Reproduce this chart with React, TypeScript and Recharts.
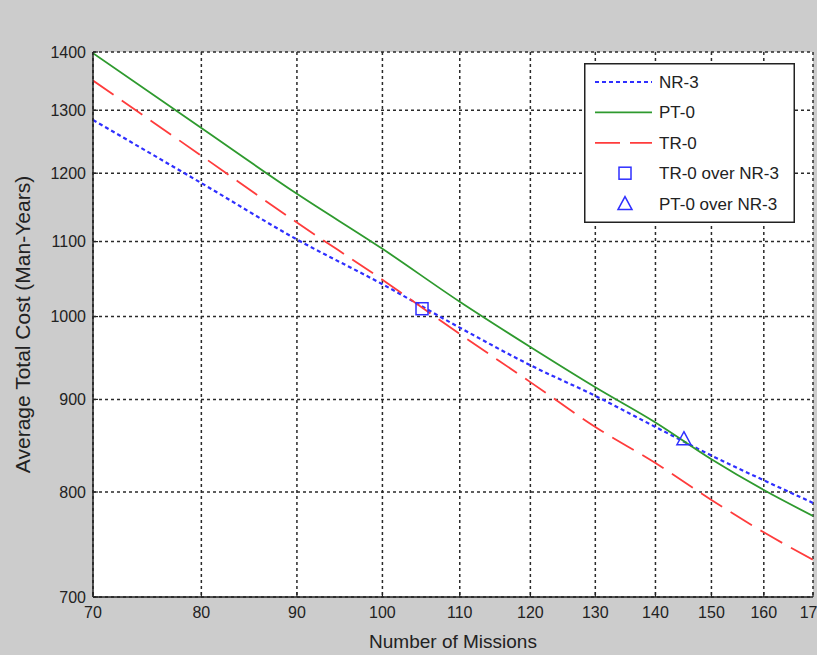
import { ComposedChart, Line, Scatter, XAxis, YAxis, CartesianGrid, Legend } from 'recharts';

const missions = [70, 80, 90, 100, 110, 120, 130, 140, 150, 160, 170];
const nr3 = [1284, 1185, 1103, 1042, 986, 940, 904, 869, 838, 812, 789];
const pt0 = [1398, 1271, 1169, 1090, 1019, 962, 914, 874, 834, 802, 776];
const tr0 = [1350, 1227, 1127, 1048, 978, 920, 869, 830, 792, 760, 734];

const xTicks = [70, 80, 90, 100, 110, 120, 130, 140, 150, 160, 170];
const yTicks = [700, 800, 900, 1000, 1100, 1200, 1300, 1400];

const trOverNr = [{ n: 105, v: 1010 }];
const ptOverNr = [{ n: 145, v: 855 }];

const data = missions.map((n, i) => ({ n, nr3: nr3[i], pt0: pt0[i], tr0: tr0[i] }));

const FONT = '"Liberation Sans", Arial, sans-serif';
const INK = '#222';
const BLUE = '#2f2fff';
const GREEN = '#2e9a2e';
const RED = '#ff3c3c';

const squareShape = (p: any) => (
  <rect x={p.cx - 6} y={p.cy - 6} width={12} height={12} fill="none" stroke={BLUE} strokeWidth={1.5} />
);

const triangleShape = (p: any) => (
  <path
    d={`M${p.cx},${p.cy - 8} L${p.cx + 7},${p.cy + 5} L${p.cx - 7},${p.cy + 5} Z`}
    fill="none"
    stroke={BLUE}
    strokeWidth={1.5}
  />
);

const YTitle = ({ viewBox }: any) => {
  const cy = viewBox.y + viewBox.height / 2;
  return (
    <text x={30} y={cy} transform={`rotate(-90, 30, ${cy})`} textAnchor="middle" fill={INK} fontSize={21} fontFamily={FONT}>
      Average Total Cost (Man-Years)
    </text>
  );
};

const legendRows = [
  { name: 'NR-3', kind: 'line', color: BLUE, dash: '4 3' },
  { name: 'PT-0', kind: 'line', color: GREEN, dash: undefined },
  { name: 'TR-0', kind: 'line', color: RED, dash: '25 10' },
  { name: 'TR-0 over NR-3', kind: 'square', color: BLUE, dash: undefined },
  { name: 'PT-0 over NR-3', kind: 'triangle', color: BLUE, dash: undefined },
];

const LegendBox = () => (
  <svg width={211} height={160} style={{ display: 'block' }}>
    <rect x={0.75} y={0.75} width={209.5} height={158.5} fill="#fff" stroke={INK} strokeWidth={1.5} />
    {legendRows.map((r, i) => {
      const cy = 19 + i * 30.4;
      return (
        <g key={r.name}>
          {r.kind === 'line' && (
            <line x1={11} x2={68} y1={cy} y2={cy} stroke={r.color} strokeWidth={r.name === 'NR-3' ? 2.2 : 1.8} strokeDasharray={r.dash} />
          )}
          {r.kind === 'square' && squareShape({ cx: 41, cy })}
          {r.kind === 'triangle' && triangleShape({ cx: 41, cy: cy + 1 })}
          <text x={75} y={cy + 6} fill={INK} fontSize={17} fontFamily={FONT}>
            {r.name}
          </text>
        </g>
      );
    })}
  </svg>
);

export default function App() {
  return (
    <div style={{ position: 'absolute', left: 0, top: 0, width: 817, height: 655, background: '#cccccc', overflow: 'hidden' }}>
      <ComposedChart width={817} height={655} data={data} margin={{ top: 52, right: 4, bottom: 0, left: 0 }}>
        <CartesianGrid fill="#fff" stroke="#2a2a2a" strokeDasharray="3 3" strokeWidth={1.5} />
        <XAxis
          dataKey="n"
          type="number"
          scale="log"
          domain={[70, 170]}
          allowDataOverflow
          ticks={xTicks}
          interval={0}
          height={58}
          tickSize={-5}
          tickMargin={15}
          axisLine={{ stroke: INK, strokeWidth: 1.5 }}
          tickLine={{ stroke: INK, strokeWidth: 1.2 }}
          tick={{ fill: INK, fontSize: 16, fontFamily: FONT }}
          label={{ value: 'Number of Missions', position: 'insideBottom', offset: 7, fill: INK, fontSize: 19, fontFamily: FONT }}
        />
        <XAxis
          xAxisId="top"
          orientation="top"
          type="number"
          scale="log"
          domain={[70, 170]}
          allowDataOverflow
          ticks={xTicks}
          interval={0}
          height={0}
          tickSize={-5}
          tick={false}
          axisLine={{ stroke: INK, strokeWidth: 1.5 }}
          tickLine={{ stroke: INK, strokeWidth: 1.2 }}
          label={{
            value: 'Comparison of No Re-supply and Re-supply Scenarios',
            position: 'top',
            offset: 15,
            fill: INK,
            fontSize: 19,
            fontFamily: FONT,
          }}
        />
        <YAxis
          type="number"
          scale="log"
          domain={[700, 1400]}
          allowDataOverflow
          ticks={yTicks}
          interval={0}
          width={93}
          tickSize={-5}
          tickMargin={12}
          axisLine={{ stroke: INK, strokeWidth: 1.5 }}
          tickLine={{ stroke: INK, strokeWidth: 1.2 }}
          tick={{ fill: INK, fontSize: 16, fontFamily: FONT }}
          label={<YTitle />}
        />
        <YAxis
          yAxisId="right"
          orientation="right"
          type="number"
          scale="log"
          domain={[700, 1400]}
          allowDataOverflow
          ticks={yTicks}
          interval={0}
          width={0}
          tickSize={-5}
          tick={false}
          axisLine={{ stroke: INK, strokeWidth: 1.5 }}
          tickLine={{ stroke: INK, strokeWidth: 1.2 }}
        />
        <Line type="monotone" dataKey="nr3" name="NR-3" stroke={BLUE} strokeWidth={2.2} strokeDasharray="4 3" dot={false} activeDot={false} isAnimationActive={false} />
        <Line type="monotone" dataKey="pt0" name="PT-0" stroke={GREEN} strokeWidth={1.8} dot={false} activeDot={false} isAnimationActive={false} />
        <Line type="monotone" dataKey="tr0" name="TR-0" stroke={RED} strokeWidth={1.8} strokeDasharray="25 10" dot={false} activeDot={false} isAnimationActive={false} />
        <Scatter data={trOverNr} dataKey="v" name="TR-0 over NR-3" shape={squareShape} isAnimationActive={false} />
        <Scatter data={ptOverNr} dataKey="v" name="PT-0 over NR-3" shape={triangleShape} isAnimationActive={false} />
        <Legend
          layout="vertical"
          align="center"
          verticalAlign="middle"
          wrapperStyle={{ left: 584, top: 63, width: 211, height: 160 }}
          content={() => <LegendBox />}
        />
      </ComposedChart>
    </div>
  );
}
